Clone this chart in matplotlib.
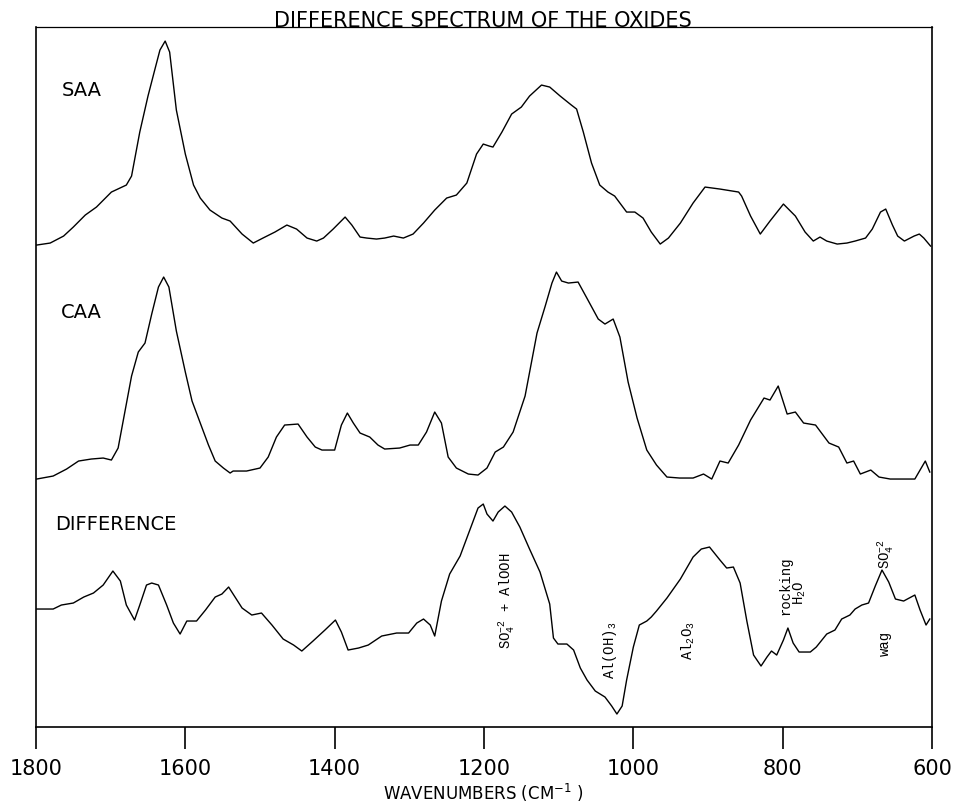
import matplotlib.pyplot as plt

# wavenumber (cm-1) / relative absorbance for each trace
saa_wn = [1799, 1781, 1763, 1750, 1734, 1719, 1699, 1679, 1672, 1661, 1650, 1641, 1634, 1627,
          1621, 1612, 1600, 1589, 1580, 1567, 1551, 1540, 1524, 1509, 1496, 1480, 1464, 1451,
          1437, 1424, 1415, 1402, 1386, 1377, 1366, 1357, 1344, 1333, 1321, 1308, 1295, 1281,
          1266, 1250, 1237, 1223, 1210, 1201, 1193, 1188, 1176, 1163, 1150, 1139, 1123, 1112,
          1098, 1083, 1076, 1067, 1056, 1045, 1034, 1025, 1009, 998, 987, 976, 964, 953, 937,
          920, 904, 884, 859, 855, 843, 830, 817, 799, 783, 770, 759, 750, 741, 727, 714, 703,
          689, 680, 669, 662, 653, 646, 637, 624, 617, 611, 602]
saa_abs = [0, 2, 9, 18, 30, 38, 53, 60, 69, 113, 149, 175, 195, 204,
           193, 135, 91, 60, 47, 35, 27, 24, 11, 2, 7, 13, 20, 16,
           7, 4, 7, 16, 28, 20, 8, 7, 6, 7, 9, 7, 11, 22,
           35, 47, 50, 62, 91, 101, 99, 98, 113, 131, 138, 149, 160, 158,
           149, 140, 136, 113, 82, 60, 53, 49, 33, 33, 27, 13, 1, 7, 22,
           42, 58, 56, 53, 49, 29, 11, 24, 41, 29, 13, 4, 8, 4, 1, 2, 4,
           7, 16, 33, 36, 20, 9, 4, 9, 11, 7, -1]

caa_wn = [1799, 1777, 1759, 1743, 1726, 1710, 1699, 1690, 1681, 1672, 1663, 1654, 1645, 1636,
          1629, 1622, 1612, 1600, 1591, 1580, 1569, 1560, 1549, 1540, 1536, 1518, 1500, 1489,
          1478, 1467, 1449, 1437, 1426, 1417, 1400, 1391, 1383, 1375, 1366, 1353, 1342, 1333,
          1313, 1299, 1288, 1277, 1266, 1257, 1248, 1237, 1221, 1208, 1196, 1185, 1174, 1161,
          1145, 1129, 1118, 1109, 1103, 1096, 1087, 1074, 1063, 1047, 1038, 1027, 1018, 1007,
          995, 982, 969, 955, 938, 920, 906, 895, 884, 873, 859, 843, 825, 817, 806, 794, 783,
          772, 756, 738, 725, 714, 705, 696, 682, 671, 656, 638, 623, 616, 609, 603]
caa_abs = [0, 3, 10, 18, 20, 21, 19, 31, 67, 103, 127, 136, 165, 192,
           202, 192, 148, 107, 78, 56, 34, 18, 11, 6, 8, 8, 11, 22,
           42, 54, 55, 42, 32, 29, 29, 54, 66, 56, 46, 42, 34, 30,
           31, 34, 34, 47, 67, 56, 22, 11, 5, 4, 11, 27, 32, 47,
           83, 146, 173, 196, 207, 198, 196, 197, 182, 160, 155, 160, 142, 97,
           61, 29, 14, 2, 1, 1, 5, 0, 18, 16, 34, 59, 81, 79, 93, 65, 67,
           56, 54, 36, 32, 16, 18, 5, 9, 2, 0, 0, 0, 9, 18, 7]

diff_wn = [1799, 1777, 1766, 1750, 1736, 1723, 1710, 1697, 1687, 1679, 1668, 1661, 1652, 1645,
           1636, 1625, 1616, 1607, 1598, 1585, 1573, 1560, 1551, 1542, 1536, 1524, 1511, 1498,
           1484, 1469, 1455, 1444, 1429, 1413, 1399, 1391, 1382, 1368, 1355, 1337, 1317, 1301,
           1290, 1281, 1272, 1266, 1257, 1246, 1232, 1219, 1208, 1201, 1196, 1188, 1181, 1172,
           1163, 1152, 1139, 1125, 1112, 1107, 1101, 1089, 1080, 1071, 1062, 1051, 1038, 1029,
           1022, 1015, 1009, 1000, 992, 982, 976, 969, 955, 937, 920, 909, 898, 884, 875, 866,
           857, 848, 839, 829, 821, 815, 808, 799, 793, 786, 778, 763, 755, 741, 730, 721, 710,
           703, 694, 685, 676, 667, 658, 649, 638, 623, 616, 608, 603]
diff_abs = [0, 0, 4, 6, 12, 16, 24, 38, 28, 4, -11, 4, 24, 26,
            24, 4, -14, -25, -12, -12, -1, 12, 15, 22, 15, 1, -6, -4,
            -16, -30, -36, -42, -32, -21, -11, -23, -41, -39, -36, -27, -24, -24,
            -14, -10, -16, -27, 8, 35, 53, 79, 101, 105, 95, 88, 97, 103,
            97, 82, 60, 37, 5, -29, -35, -35, -41, -59, -71, -82, -88, -97,
            -105, -97, -71, -38, -16, -12, -8, -2, 11, 30, 52, 60, 62, 49, 41, 42,
            26, -12, -46, -57, -48, -42, -46, -31, -19, -34, -43, -43, -38, -25, -21, -10, -6,
            0, 4, 6, 23, 39, 27, 10, 8, 14, -1, -16, -10]

names = ['SAA', 'CAA', 'DIFFERENCE']
offsets = [482, 248, 118]
label_pos = [(1766, 638), (1766, 416), (1775, 204)]

xticks = [1800, 1600, 1400, 1200, 1000, 800, 600]

fig = plt.figure(figsize=(9.57, 8.04), dpi=100)
ax = fig.add_axes([0.0376, 0.0945, 0.9363, 0.8706])

traces = [(saa_wn, saa_abs), (caa_wn, caa_abs), (diff_wn, diff_abs)]
for (wn, a), off, name, (lx, ly) in zip(traces, offsets, names, label_pos):
    ax.plot(wn, [v + off for v in a], color='black', lw=1.0, solid_joinstyle='round')
    ax.text(lx, ly, name, fontsize=14, va='center', ha='left')

# band assignments on the difference trace
mono = 'Liberation Mono'
notes = [
    (1169, 127, r'SO$\mathregular{_4^{-2}}$ + AlOOH'),
    (1031, 78, r'Al(OH)$\mathregular{_3}$'),
    (927, 87, r'Al$\mathregular{_2}$O$\mathregular{_3}$'),
    (796, 142, 'rocking'),
    (777, 135, r'H$\mathregular{_2}$O'),
    (662, 174, r'SO$\mathregular{_4^{-2}}$'),
    (663, 85, 'wag'),
]
for x, y, s in notes:
    ax.text(x, y, s, rotation=90, ha='center', va='center', fontsize=10, family=mono)

ax.set_xlim(1800, 600)
ax.set_ylim(0, 700)
ax.set_xticks(xticks)
ax.set_yticks([])
ax.tick_params(axis='x', direction='out', length=16, width=1.2, pad=6, labelsize=15)
for sp in ax.spines.values():
    sp.set_linewidth(1.2)
ax.spines['top'].set_linewidth(0.9)

fig.text(0.505, 0.967, 'DIFFERENCE SPECTRUM OF THE OXIDES', ha='center', va='baseline',
         fontsize=15)
fig.text(0.505, 0.0, r'WAVENUMBERS (CM$\mathregular{^{-1}}$ )', ha='center', va='bottom',
         fontsize=12)

fig.savefig('out.png', dpi=100)
